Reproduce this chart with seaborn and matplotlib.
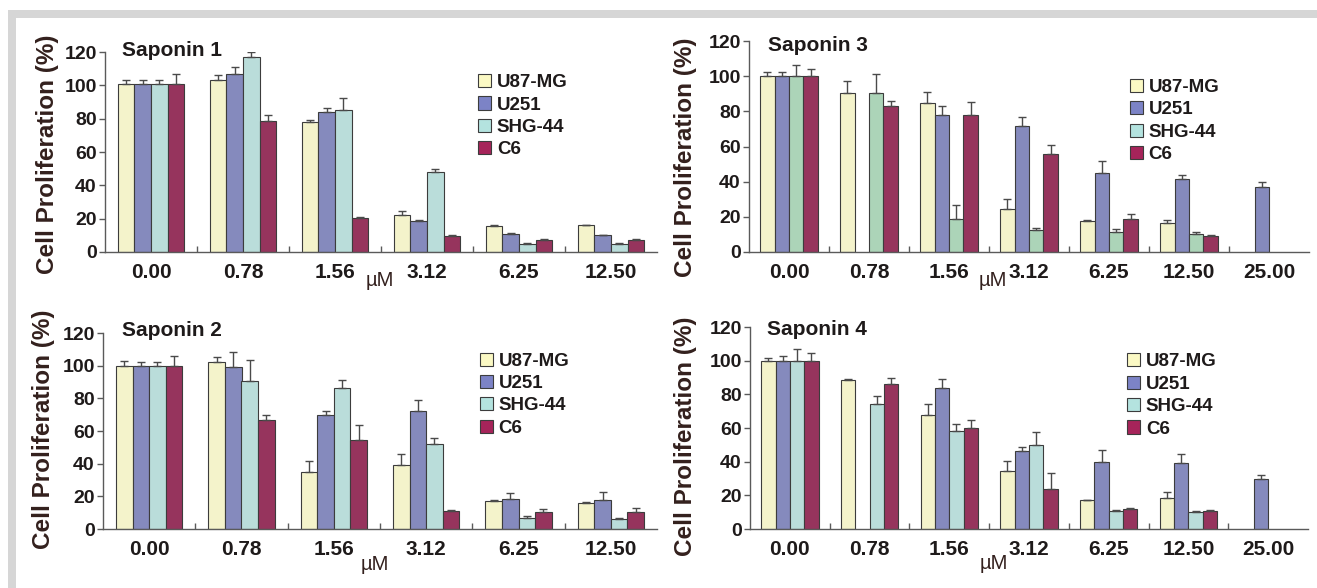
import numpy as np
import pandas as pd
import matplotlib
matplotlib.use("Agg")
import matplotlib.pyplot as plt
from matplotlib.patches import Rectangle, Patch
import seaborn as sns

nan = np.nan

cells = ["U87-MG", "U251", "SHG-44", "C6"]
conc6 = ["0.00", "0.78", "1.56", "3.12", "6.25", "12.50"]
conc7 = ["0.00", "0.78", "1.56", "3.12", "6.25", "12.50", "25.00"]

# Saponin 1 (means and upper error)
s1_u87 = [101, 103, 78, 22.5, 15.5, 16]
s1_u251 = [101, 107, 84, 18.5, 11, 10]
s1_shg = [101, 117, 85.5, 48, 5, 5]
s1_c6 = [101, 78.5, 20.5, 9.5, 7.5, 7.5]
s1_u87_err = [2.5, 3, 1.5, 2, 0.5, 0.5]
s1_u251_err = [2.5, 4, 2.5, 0.8, 0.5, 0.5]
s1_shg_err = [2.5, 3, 7, 2, 0.5, 0.5]
s1_c6_err = [6, 3.5, 0.5, 0.5, 0.5, 0.5]

# Saponin 2
s2_u87 = [100, 102.5, 35, 39, 17, 16]
s2_u251 = [100, 99, 69.5, 72.5, 18.5, 17.5]
s2_shg = [100, 90.5, 86.5, 52, 7, 6]
s2_c6 = [100, 67, 54.5, 11, 10.5, 10.5]
s2_u87_err = [3, 3, 6.5, 7, 0.5, 0.5]
s2_u251_err = [2.5, 9.5, 2.5, 6.5, 3.5, 5]
s2_shg_err = [2.5, 13, 5, 3.5, 0.8, 0.5]
s2_c6_err = [6, 2.5, 9, 0.5, 2, 2.5]

# Saponin 3
s3_u87 = [100, 90.5, 84.5, 24.5, 17.5, 16.5, nan]
s3_u251 = [100, nan, 78, 71.5, 45, 41.5, 37]
s3_shg = [100, 90.5, 19, 12.5, 11.5, 10.5, nan]
s3_c6 = [100, 83, 78, 55.5, 19, 9, nan]
s3_u87_err = [2.5, 6.5, 6.5, 5.5, 0.5, 1.5, 0]
s3_u251_err = [2.5, 0, 5, 5.5, 6.5, 2.5, 3]
s3_shg_err = [6.5, 10.5, 8, 1, 1.5, 0.8, 0]
s3_c6_err = [4, 3, 7.5, 5.5, 2.5, 0.8, 0]

# Saponin 4
s4_u87 = [100, 88.5, 68, 34.5, 17, 18.5, nan]
s4_u251 = [100, nan, 84, 46.5, 40, 39, 30]
s4_shg = [100, 74, 58.5, 50, 10.5, 10, nan]
s4_c6 = [100, 86, 60, 24, 12, 10.5, nan]
s4_u87_err = [1.5, 0.5, 6, 6, 0.5, 3.5, 0]
s4_u251_err = [2.5, 0, 5, 2.5, 7, 5.5, 2]
s4_shg_err = [7, 5, 4, 7.5, 0.5, 0.5, 0]
s4_c6_err = [4.5, 3.5, 5, 9, 0.5, 1, 0]

colors = {"U87-MG": "#fbf9c4", "U251": "#7c83c6", "SHG-44": "#b4e3df", "C6": "#a6245a"}
colors_s3 = dict(colors, **{"SHG-44": "#a5dbb5"})

sns.set_theme(style="white")
plt.rcParams["font.family"] = ["Liberation Sans", "DejaVu Sans"]

W, H = 1317, 588
fig = plt.figure(figsize=(W / 100, H / 100), dpi=100)
fig.patch.set_facecolor("white")

# gray frame of the source figure
fig.add_artist(Rectangle((8 / W, 1 - 18 / H), 1 - 8 / W, 8 / H, transform=fig.transFigure,
                         facecolor="#d6d6d6", edgecolor="none"))
fig.add_artist(Rectangle((8 / W, 0), 8 / W, 1 - 10 / H, transform=fig.transFigure,
                         facecolor="#d6d6d6", edgecolor="none"))

def px_axes(l, r, t, b):
    return [l / W, 1 - b / H, (r - l) / W, (b - t) / H]

panels = [
    dict(title="Saponin 1", conc=conc6, vals=[s1_u87, s1_u251, s1_shg, s1_c6],
         errs=[s1_u87_err, s1_u251_err, s1_shg_err, s1_c6_err], pal=colors,
         rect=px_axes(105, 657, 52, 252), tpos=(0.031, 0.98), ylab=(-0.105, 0.49),
         mu=(0.498, -0.145), leg=(0.676, 0.89)),
    dict(title="Saponin 3", conc=conc7, vals=[s3_u87, s3_u251, s3_shg, s3_c6],
         errs=[s3_u87_err, s3_u251_err, s3_shg_err, s3_c6_err], pal=colors_s3,
         rect=px_axes(749, 1309, 41, 252), tpos=(0.034, 0.953), ylab=(-0.1125, 0.45),
         mu=(0.436, -0.137), leg=(0.68, 0.82)),
    dict(title="Saponin 2", conc=conc6, vals=[s2_u87, s2_u251, s2_shg, s2_c6],
         errs=[s2_u87_err, s2_u251_err, s2_shg_err, s2_c6_err], pal=colors,
         rect=px_axes(103, 657, 333, 529), tpos=(0.034, 0.985), ylab=(-0.108, 0.51),
         mu=(0.49, -0.179), leg=(0.68, 0.9)),
    dict(title="Saponin 4", conc=conc7, vals=[s4_u87, s4_u251, s4_shg, s4_c6],
         errs=[s4_u87_err, s4_u251_err, s4_shg_err, s4_c6_err], pal=colors,
         rect=px_axes(750, 1308, 327, 529), tpos=(0.03, 0.96), ylab=(-0.115, 0.46),
         mu=(0.437, -0.173), leg=(0.676, 0.87)),
]

axis_col = "#5a5a5a"
text_col = "#1e1a1a"
lab_col = "#33201d"

for p in panels:
    ax = fig.add_axes(p["rect"])
    rows = []
    for cell, v in zip(cells, p["vals"]):
        for c, val in zip(p["conc"], v):
            rows.append({"conc": c, "cell": cell, "value": val})
    df = pd.DataFrame(rows)
    sns.barplot(data=df, x="conc", y="value", hue="cell", order=p["conc"], hue_order=cells,
                palette=p["pal"], width=0.72, errorbar=None, edgecolor="#3c3c3c",
                linewidth=0.8, legend=False, ax=ax)

    # error bars (upper only)
    err_lookup = {cell: e for cell, e in zip(cells, p["errs"])}
    pal_rgb = {cell: np.array(matplotlib.colors.to_rgb(col)) for cell, col in p["pal"].items()}
    xs, ys, es = [], [], []
    for bar in ax.patches:
        h = bar.get_height()
        if not np.isfinite(h) or h <= 0:
            continue
        fc = np.array(bar.get_facecolor()[:3])
        cell = min(pal_rgb, key=lambda k: np.sum((pal_rgb[k] - fc) ** 2))
        cx = bar.get_x() + bar.get_width() / 2
        idx = int(round(cx))
        e = err_lookup[cell][idx]
        if e > 0:
            xs.append(cx); ys.append(h); es.append(e)
    ax.errorbar(xs, ys, yerr=[np.zeros(len(es)), es], fmt="none", ecolor="#4a4a4a",
                elinewidth=1.0, capsize=3, capthick=1.0, zorder=1)

    n = len(p["conc"])
    ax.set_xlim(-0.5, n - 0.5)
    ax.set_ylim(0, 120)
    ax.set_yticks([0, 20, 40, 60, 80, 100, 120])
    ax.set_xticks(range(n))
    ax.set_xticklabels(p["conc"])
    ax.set_xticks(np.arange(0.5, n - 0.5, 1.0), minor=True)
    ax.set_xlabel("")
    ax.set_ylabel("")
    for s in ["top", "right"]:
        ax.spines[s].set_visible(False)
    for s in ["left", "bottom"]:
        ax.spines[s].set_color(axis_col)
        ax.spines[s].set_linewidth(1.0)
    ax.tick_params(axis="x", which="major", length=0, pad=8, labelsize=15,
                   labelcolor=text_col)
    ax.tick_params(axis="x", which="minor", direction="in", length=4, width=1,
                   color=axis_col, bottom=True)
    ax.tick_params(axis="y", which="major", direction="out", length=4, width=1,
                   color=axis_col, pad=2, labelsize=14, labelcolor=text_col, left=True)
    for lab in ax.get_xticklabels() + ax.get_yticklabels():
        lab.set_fontweight("bold")
    ax.patch.set_alpha(0)

    ax.text(p["tpos"][0], p["tpos"][1], p["title"], transform=ax.transAxes,
            ha="left", va="baseline", fontsize=15, fontweight="bold", color=text_col)
    ax.text(p["ylab"][0], p["ylab"][1], "Cell Proliferation (%)", transform=ax.transAxes,
            rotation=90, ha="center", va="center", fontsize=17.5, fontweight="bold",
            color=lab_col)
    ax.text(p["mu"][0], p["mu"][1], "\u00b5M", transform=ax.transAxes, ha="center",
            va="center", fontsize=14.5, color=lab_col)

    handles = [Patch(facecolor=colors[c], edgecolor="#3c3c3c", linewidth=0.8) for c in cells]
    leg = ax.legend(handles, cells, loc="upper left", bbox_to_anchor=p["leg"],
                    frameon=False, handlelength=0.7, handleheight=0.7, handletextpad=0.3,
                    labelspacing=0.28, borderpad=0, borderaxespad=0,
                    prop={"size": 13.5, "weight": "bold"})
    for t in leg.get_texts():
        t.set_color(text_col)

fig.savefig("out.png", dpi=100, facecolor="white")
